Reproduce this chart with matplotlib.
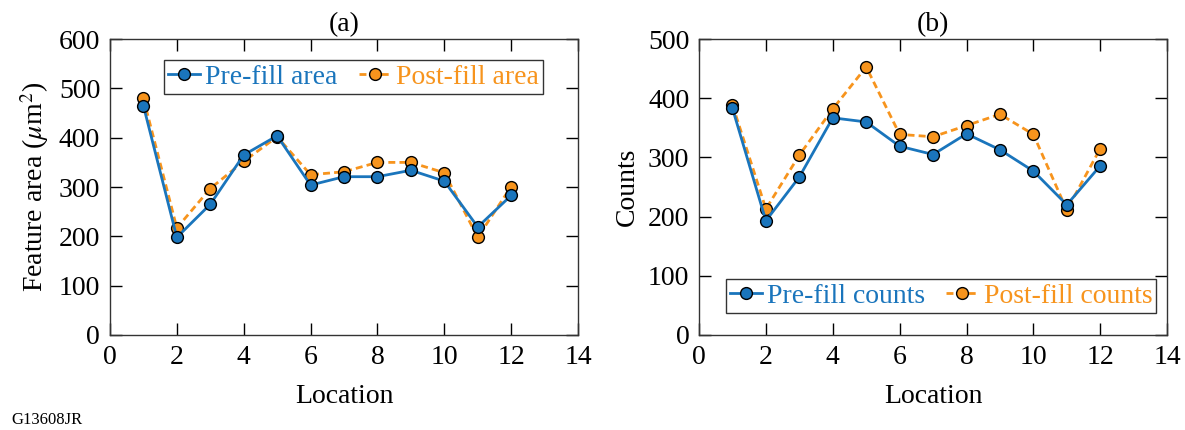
import matplotlib
matplotlib.use('Agg')
import matplotlib.pyplot as plt

plt.rcParams['font.family'] = ['Liberation Serif', 'DejaVu Serif']
plt.rcParams['mathtext.fontset'] = 'stix'

location = [1, 2, 3, 4, 5, 6, 7, 8, 9, 10, 11, 12]
pre_area = [465, 198, 265, 365, 404, 304, 321, 321, 334, 312, 219, 283]
post_area = [480, 217, 297, 352, 402, 325, 331, 350, 350, 329, 198, 301]
pre_counts = [383, 193, 267, 367, 360, 319, 305, 340, 313, 277, 220, 286]
post_counts = [389, 213, 304, 382, 453, 339, 335, 354, 373, 339, 211, 315]

blue = '#1a75bc'
orange = '#f7941d'
fs = 20

fig = plt.figure(figsize=(11.85, 4.3), dpi=100)
ax1 = fig.add_axes([0.0928, 0.221, 0.395, 0.688])
ax2 = fig.add_axes([0.5899, 0.221, 0.395, 0.688])


def draw(ax, pre, post, pre_lab, post_lab):
    ax.plot(location, pre, '-o', color=blue, lw=2, ms=8.5, mfc=blue, mec='black',
            mew=1, label=pre_lab, zorder=3)
    ax.plot(location, post, '--o', color=orange, lw=2, ms=8.5, mfc=orange, mec='black',
            mew=1, label=post_lab, zorder=2, dashes=(2.5, 1.5))
    ax.set_xlim(0, 14)
    ax.set_xticks(range(0, 15, 2))
    ax.set_xlabel('Location', fontsize=fs, labelpad=10)
    ax.tick_params(direction='in', length=8.5, width=1, top=True, right=True,
                   labelsize=fs, pad=7)
    for s in ax.spines.values():
        s.set_linewidth(1)
        s.set_color('#333333')


def style_legend(leg):
    leg.get_frame().set_linewidth(1)
    for t, c in zip(leg.get_texts(), [blue, orange]):
        t.set_color(c)


leg_kw = dict(ncol=2, fontsize=fs, frameon=True, fancybox=False, edgecolor='black',
              handlelength=1.15, handletextpad=0.2, columnspacing=0.75,
              borderpad=0.15, borderaxespad=0)

draw(ax1, pre_area, post_area, 'Pre-fill area', 'Post-fill area')
ax1.set_ylim(0, 600)
ax1.set_yticks(range(0, 601, 100))
ax1.set_ylabel(r'Feature area ($\mu$m$^2$)', fontsize=fs, labelpad=6)
ax1.set_title('(a)', fontsize=fs, pad=6)
leg1 = ax1.legend(loc='upper center', bbox_to_anchor=(0.52, 0.928), **leg_kw)
style_legend(leg1)

draw(ax2, pre_counts, post_counts, 'Pre-fill counts', 'Post-fill counts')
ax2.set_ylim(0, 500)
ax2.set_yticks(range(0, 501, 100))
ax2.set_ylabel('Counts', fontsize=fs, labelpad=6)
ax2.set_title('(b)', fontsize=fs, pad=6)
leg2 = ax2.legend(loc='lower center', bbox_to_anchor=(0.517, 0.075), **leg_kw)
style_legend(leg2)

fig.text(0.01, 0.015, 'G13608JR', fontsize=12)

fig.savefig('out.png', dpi=100)
